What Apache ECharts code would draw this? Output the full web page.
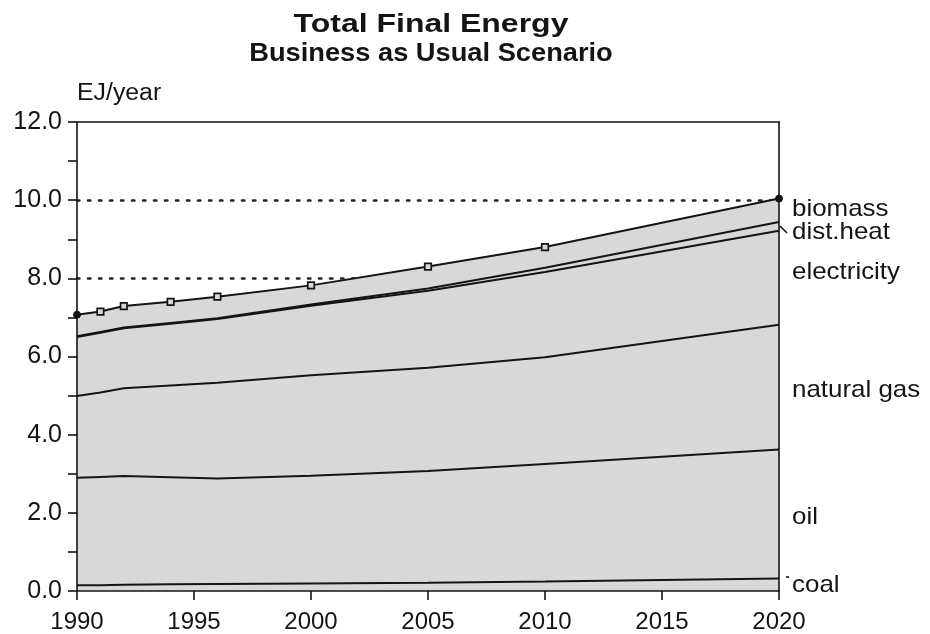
<!DOCTYPE html>
<html>
<head>
<meta charset="utf-8">
<title>Total Final Energy</title>
<script src="https://cdn.jsdelivr.net/npm/echarts@6/dist/echarts.min.js"></script>
<style>
  html, body { margin: 0; padding: 0; background: #ffffff; }
  #chart { width: 930px; height: 634px; }
</style>
</head>
<body>
<div id="chart"></div>
<script>
// Years with data points (EJ/year, stacked from the bottom up)
const years = [1990, 1991, 1992, 1994, 1996, 2000, 2005, 2010, 2020];

const coal       = [0.15, 0.15, 0.16, 0.17, 0.18, 0.19, 0.21, 0.24, 0.32];
const oil        = [2.75, 2.77, 2.78, 2.74, 2.70, 2.76, 2.86, 3.01, 3.30];
const naturalGas = [2.09, 2.16, 2.25, 2.35, 2.45, 2.57, 2.64, 2.73, 3.19];
const electricity= [1.51, 1.53, 1.53, 1.58, 1.63, 1.78, 1.97, 2.18, 2.41];
const distHeat   = [0.02, 0.02, 0.02, 0.02, 0.02, 0.03, 0.06, 0.11, 0.22];
const biomass    = [0.55, 0.52, 0.55, 0.54, 0.55, 0.49, 0.56, 0.53, 0.60];

const seriesNames = ['coal', 'oil', 'natural gas', 'electricity', 'dist.heat', 'biomass'];
const seriesValues = [coal, oil, naturalGas, electricity, distHeat, biomass];

// Right-hand band labels and where their text sits (pixel y of the text centre)
const bandLabels = ['biomass', 'dist.heat', 'electricity', 'natural gas', 'oil', 'coal'];
const bandLabelY = [209, 232, 272, 390, 517, 585];

const FILL = '#d8d8d8';
const INK = '#141414';
const FONT = '"Liberation Sans", Arial, Helvetica, sans-serif';

const chart = echarts.init(document.getElementById('chart'), null, { renderer: 'canvas' });

const series = seriesValues.map(function (vals, i) {
  const isTop = i === seriesValues.length - 1;
  return {
    name: seriesNames[i],
    type: 'line',
    stack: 'total',
    // value first, year second: the first value dimension is the one that stacks
    encode: { x: 1, y: 0 },
    // lower series sit on top so each boundary line stays fully visible
    z: 10 - i,
    data: years.map(function (y, k) {
      const item = { value: [vals[k], y] };
      if (isTop) {
        const end = (k === 0 || k === years.length - 1);
        item.symbol = end ? 'circle' : 'rect';
        item.symbolSize = end ? 7 : 6.5;
        item.itemStyle = end
          ? { color: INK, borderColor: INK, borderWidth: 1 }
          : { color: FILL, borderColor: INK, borderWidth: 1.7 };
      }
      return item;
    }),
    showSymbol: isTop,
    showAllSymbol: true,
    symbol: isTop ? 'rect' : 'none',
    lineStyle: { color: INK, width: 2 },
    areaStyle: { color: FILL, opacity: 1 },
    emphasis: { disabled: true },
    silent: true,
    animation: false
  };
});

const labelGraphics = bandLabels.map(function (t, i) {
  return {
    type: 'text', x: 792, y: bandLabelY[i], scaleX: 1.08, z: 50,
    style: { text: t, x: 0, y: 0, textVerticalAlign: 'middle', font: '24px ' + FONT, fill: INK }
  };
});

const option = {
  animation: false,
  backgroundColor: '#ffffff',
  grid: { left: 77, right: 151, top: 122, bottom: 41, containLabel: false },
  xAxis: [
    {
      type: 'value', min: 1990, max: 2020, interval: 5, position: 'bottom', z: 20,
      axisLine: { show: true, lineStyle: { color: INK, width: 1.6 } },
      axisTick: { show: true, inside: false, length: 9, lineStyle: { color: INK, width: 1.6 } },
      axisLabel: {
        margin: 19, fontSize: 24, color: INK, fontFamily: FONT,
        formatter: function (v) { return String(v); }
      },
      splitLine: { show: false }
    },
    {
      type: 'value', min: 1990, max: 2020, interval: 5, position: 'top', z: 20,
      axisLine: { show: true, onZero: false, lineStyle: { color: INK, width: 1.6 } },
      axisTick: { show: false }, axisLabel: { show: false }, splitLine: { show: false }
    }
  ],
  yAxis: [
    {
      type: 'value', min: 0, max: 12, interval: 2, position: 'left', z: 20,
      axisLine: { show: true, onZero: false, lineStyle: { color: INK, width: 1.6 } },
      axisTick: { show: true, inside: false, length: 9, lineStyle: { color: INK, width: 1.6 } },
      minorTick: { show: true, splitNumber: 2, length: 9, lineStyle: { color: INK, width: 1.6 } },
      axisLabel: {
        margin: 15, fontSize: 25, color: INK, fontFamily: FONT,
        formatter: function (v) { return v.toFixed(1); }
      },
      splitLine: { show: false }
    },
    {
      // dotted reference lines, drawn beneath the filled areas
      type: 'value', min: 0, max: 12, interval: 2, position: 'right', z: 0,
      axisLine: { show: false }, axisTick: { show: false }, axisLabel: { show: false },
      splitLine: {
        show: true, showMinLine: false, showMaxLine: false,
        lineStyle: { color: '#222', width: 2.6, type: [2.4, 8.6], cap: 'round' }
      }
    },
    {
      type: 'value', min: 0, max: 12, interval: 2, position: 'right', z: 20,
      axisLine: { show: true, onZero: false, lineStyle: { color: INK, width: 1.6 } },
      axisTick: { show: false }, axisLabel: { show: false }, splitLine: { show: false }
    }
  ],
  series: series,
  graphic: [
    {
      type: 'text', x: 431, y: 25, scaleX: 1.23, z: 50,
      style: { text: 'Total Final Energy', x: 0, y: 0, textAlign: 'center', textVerticalAlign: 'middle',
        font: 'bold 26px ' + FONT, fill: INK }
    },
    {
      type: 'text', x: 431, y: 54, scaleX: 1.09, z: 50,
      style: { text: 'Business as Usual Scenario', x: 0, y: 0, textAlign: 'center', textVerticalAlign: 'middle',
        font: 'bold 25px ' + FONT, fill: INK }
    },
    {
      type: 'text', x: 77, y: 94, scaleX: 1.08, z: 50,
      style: { text: 'EJ/year', x: 0, y: 0, textAlign: 'left', textVerticalAlign: 'middle',
        font: '23px ' + FONT, fill: INK }
    }
  ].concat(labelGraphics).concat([
    // leader from the dist.heat band to its label
    { type: 'line', z: 50, shape: { x1: 780, y1: 226, x2: 787, y2: 233 }, style: { stroke: INK, lineWidth: 1.6 } },
    // small mark beside the coal label
    { type: 'line', z: 50, shape: { x1: 786, y1: 577, x2: 789, y2: 577 }, style: { stroke: INK, lineWidth: 1.6 } }
  ])
};

chart.setOption(option);
</script>
</body>
</html>
